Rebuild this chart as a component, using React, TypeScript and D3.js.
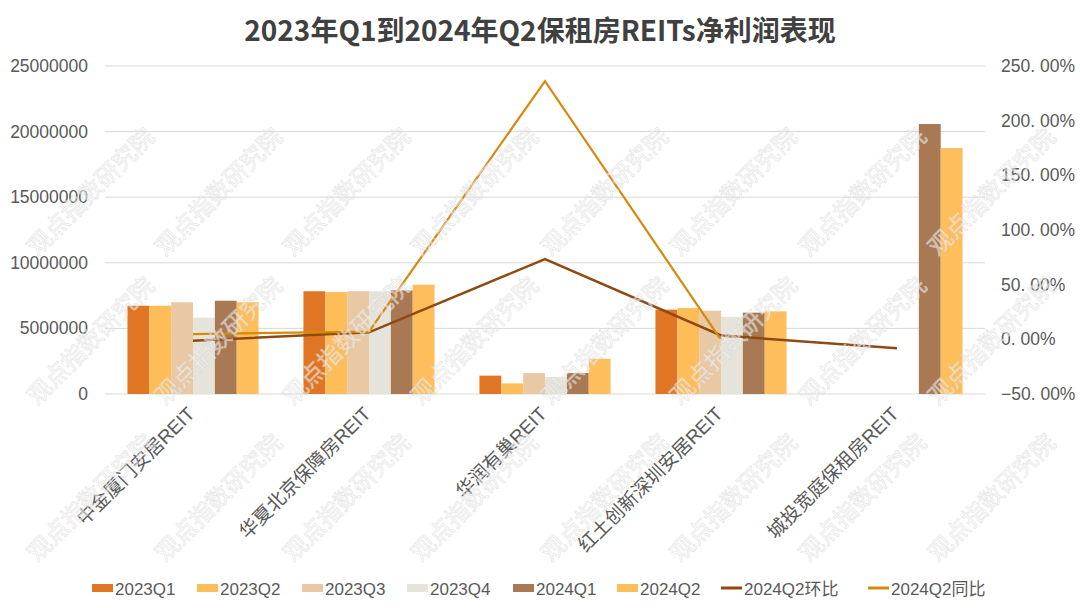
import * as d3 from "d3";

const categories = [
  "中金厦门安居REIT",
  "华夏北京保障房REIT",
  "华润有巢REIT",
  "红土创新深圳安居REIT",
  "城投宽庭保租房REIT",
];
const seriesNames = ["2023Q1", "2023Q2", "2023Q3", "2023Q4", "2024Q1", "2024Q2"];
const v2023Q1 = [6730000, 7830000, 1400000, 6430000, null];
const v2023Q2 = [6730000, 7770000, 810000, 6550000, null];
const v2023Q3 = [6990000, 7830000, 1600000, 6350000, null];
const v2023Q4 = [5820000, 7830000, 1300000, 5890000, null];
const v2024Q1 = [7110000, 7900000, 1600000, 6200000, 20580000];
const v2024Q2 = [6990000, 8330000, 2690000, 6300000, 18750000];
// percent
const huanbi = [-1.3, 6.4, 73.4, 3.6, -8.2];
const tongbi = [4.8, 7.1, 236.2, -0.6, null];
const leftTicks = [0, 5000000, 10000000, 15000000, 20000000, 25000000];
const rightTicks = [-50, 0, 50, 100, 150, 200, 250];

const barColors = ["#E07623", "#FFBD59", "#E8C9A4", "#E6E4DA", "#A97954", "#FFBE5C"];
const hbColor = "#8E4A12";
const tbColor = "#D68A0C";
const FONT = "'Liberation Sans', 'Noto Sans CJK SC', sans-serif";

const W = 1080;
const H = 608;
const left = 105;
const right = 985;
const top = 66;
const bottom = 394;

export default function App() {
  const seriesValues = [v2023Q1, v2023Q2, v2023Q3, v2023Q4, v2024Q1, v2024Q2];
  const x0 = d3.scaleBand<string>().domain(categories).range([left, right]).paddingInner(0.255).paddingOuter(0.1275);
  const x1 = d3.scaleBand<string>().domain(seriesNames).range([0, x0.bandwidth()]);
  const y = d3.scaleLinear().domain([0, 25000000]).range([bottom, top]);
  const y2 = d3.scaleLinear().domain([-50, 250]).range([bottom, top]);
  const cx = (c: string) => (x0(c) as number) + x0.bandwidth() / 2;

  const lineGen = d3
    .line<number | null>()
    .defined((d) => d != null)
    .x((_, i) => cx(categories[i]))
    .y((d) => y2(d as number));

  // watermark grid
  const marks: { x: number; y: number }[] = [];
  [193, 342, 499].forEach((yy) =>
    [92, 220, 348, 476, 606, 735, 864, 993].forEach((xx) => marks.push({ x: xx, y: yy }))
  );

  const legendBoxX = [92, 197, 302, 407, 513, 617];
  const legendLineX = [721, 868];

  return (
    <svg width={W} height={H} style={{ position: "absolute", left: 0, top: 0, background: "#fff" }}>
      <text x={540} y={41} textAnchor="middle" fontFamily="'Noto Sans CJK SC', sans-serif" fontWeight="bold" fontSize={28} fill="#404040">
        2023年Q1到2024年Q2保租房REITs净利润表现
      </text>
      {leftTicks.map((t) => (
        <g key={t}>
          <line x1={left} x2={right} y1={y(t)} y2={y(t)} stroke="#D9D9D9" strokeWidth={1} />
          <text x={88} y={y(t) + 6} textAnchor="end" fontFamily={FONT} fontSize={17.5} fill="#595959">
            {t}
          </text>
        </g>
      ))}
      {rightTicks.map((t) => (
        <text key={t} x={1001} y={y2(t) + 6} fontFamily={FONT} fontSize={17.5} fill="#595959">
          {(t < 0 ? "−" : "") + Math.abs(t) + ". 00%"}
        </text>
      ))}
      {seriesValues.map((vals, si) =>
        vals.map((v, ci) =>
          v == null ? null : (
            <rect
              key={si + "-" + ci}
              x={(x0(categories[ci]) as number) + (x1(seriesNames[si]) as number)}
              y={y(v)}
              width={x1.bandwidth()}
              height={y(0) - y(v)}
              fill={barColors[si]}
            />
          )
        )
      )}
      <path d={lineGen(huanbi) || ""} fill="none" stroke={hbColor} strokeWidth={2.5} />
      <path d={lineGen(tongbi) || ""} fill="none" stroke={tbColor} strokeWidth={2.2} />
      {categories.map((c) => (
        <text
          key={c}
          transform={`translate(${cx(c) + 3},${bottom + 21}) rotate(-45)`}
          textAnchor="end"
          fontFamily={FONT}
          fontSize={19}
          fill="#595959"
        >
          {c}
        </text>
      ))}
      {marks.map((m, i) => (
        <text
          key={"w" + i}
          transform={`translate(${m.x},${m.y}) rotate(-45)`}
          textAnchor="middle"
          dominantBaseline="middle"
          fontFamily="'Noto Sans CJK SC', sans-serif"
          fontSize={24}
          fill="#ffffff"
          fillOpacity={0.5}
          stroke="#d2d2d2"
          strokeOpacity={0.55}
          strokeWidth={0.8}
        >
          观点指数研究院
        </text>
      ))}
      {seriesNames.map((s, i) => (
        <g key={s}>
          <rect x={legendBoxX[i]} y={584} width={21} height={8} fill={barColors[i]} />
          <text x={legendBoxX[i] + 23} y={595} fontFamily={FONT} fontSize={17} fill="#595959">
            {s}
          </text>
        </g>
      ))}
      {["2024Q2环比", "2024Q2同比"].map((s, i) => (
        <g key={s}>
          <line x1={legendLineX[i]} x2={legendLineX[i] + 21} y1={588} y2={588} stroke={i === 0 ? hbColor : tbColor} strokeWidth={3} />
          <text x={legendLineX[i] + 23} y={595} fontFamily={FONT} fontSize={17} fill="#595959">
            {s}
          </text>
        </g>
      ))}
    </svg>
  );
}
